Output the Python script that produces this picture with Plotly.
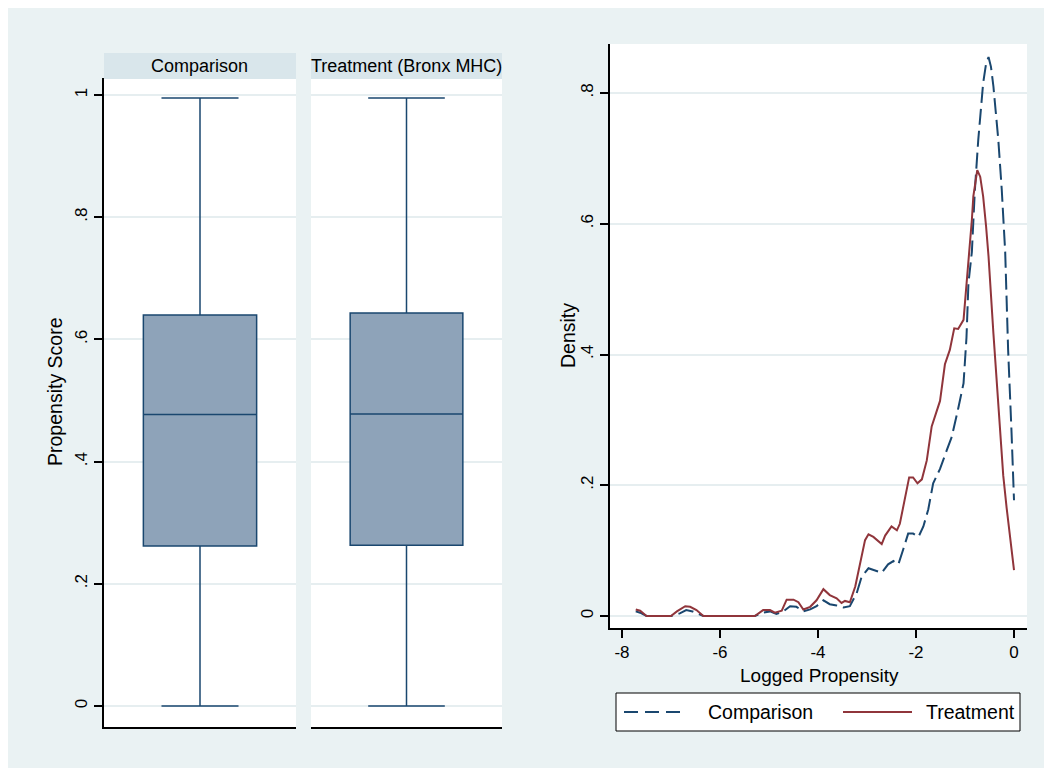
import plotly.graph_objects as go

# page body has an 8px margin; figure sized to fit inside the 1052x772 window
OFF = 8
W, H = 1052 - OFF, 772 - OFF

# ---- data ----
groups = ["Comparison", "Treatment (Bronx MHC)"]
box_q1 = [0.262, 0.263]
box_median = [0.477, 0.478]
box_q3 = [0.640, 0.643]
box_lower = [0.0, 0.0]
box_upper = [0.995, 0.995]

treat_x = [-7.72, -7.63, -7.50, -7.00, -6.88, -6.71, -6.61, -6.48, -6.34, -5.29,
           -5.12, -4.98, -4.88, -4.74, -4.64, -4.50, -4.40, -4.30, -4.16, -4.03,
           -3.89, -3.76, -3.62, -3.52, -3.45, -3.35, -3.24, -3.14, -3.04, -2.97,
           -2.87, -2.70, -2.63, -2.50, -2.39, -2.33, -2.22, -2.14, -2.06, -1.97,
           -1.88, -1.78, -1.68, -1.61, -1.51, -1.41, -1.31, -1.22, -1.14, -1.03,
           -0.97, -0.90, -0.86, -0.83, -0.75, -0.69, -0.63, -0.57, -0.52, -0.42,
           -0.35, -0.29, -0.22, -0.15, -0.07, 0.00]
treat_y = [0.010, 0.008, 0.000, 0.000, 0.007, 0.015, 0.014, 0.009, 0.000, 0.000,
           0.009, 0.009, 0.005, 0.008, 0.025, 0.025, 0.021, 0.010, 0.014, 0.024,
           0.041, 0.032, 0.027, 0.020, 0.023, 0.021, 0.045, 0.080, 0.116, 0.125,
           0.121, 0.110, 0.123, 0.137, 0.131, 0.141, 0.184, 0.212, 0.212, 0.203,
           0.209, 0.238, 0.290, 0.306, 0.329, 0.385, 0.407, 0.440, 0.439, 0.453,
           0.509, 0.560, 0.606, 0.642, 0.682, 0.672, 0.642, 0.596, 0.550, 0.432,
           0.356, 0.275, 0.215, 0.165, 0.115, 0.070]

comp_x = [-7.72, -7.63, -7.50, -7.00, -6.82, -6.69, -6.56, -6.45, -6.34, -5.29,
          -5.12, -4.98, -4.85, -4.71, -4.57, -4.44, -4.30, -4.16, -4.03, -3.89,
          -3.76, -3.62, -3.48, -3.35, -3.21, -3.11, -2.97, -2.70, -2.57, -2.46,
          -2.36, -2.26, -2.16, -2.06, -1.95, -1.85, -1.75, -1.65, -1.51, -1.37,
          -1.27, -1.14, -1.03, -0.97, -0.93, -0.86, -0.80, -0.73, -0.63, -0.57,
          -0.52, -0.47, -0.42, -0.32, -0.25, -0.18, -0.12, -0.05, -0.01, 0.00]
comp_y = [0.007, 0.005, 0.000, 0.000, 0.004, 0.009, 0.007, 0.004, 0.000, 0.000,
          0.005, 0.007, 0.003, 0.007, 0.015, 0.014, 0.007, 0.010, 0.015, 0.024,
          0.018, 0.016, 0.013, 0.015, 0.035, 0.060, 0.073, 0.066, 0.079, 0.084,
          0.079, 0.102, 0.126, 0.126, 0.121, 0.137, 0.163, 0.203, 0.225, 0.254,
          0.274, 0.317, 0.356, 0.426, 0.509, 0.557, 0.650, 0.728, 0.815, 0.845,
          0.855, 0.840, 0.810, 0.728, 0.652, 0.557, 0.407, 0.280, 0.183, 0.177]

left_ticks = [0, 0.2, 0.4, 0.6, 0.8, 1]
left_ticktext = ["0", ".2", ".4", ".6", ".8", "1"]
dens_ticks = [0, 0.2, 0.4, 0.6, 0.8]
dens_ticktext = ["0", ".2", ".4", ".6", ".8"]
lp_ticks = [-8, -6, -4, -2, 0]
lp_ticktext = ["-8", "-6", "-4", "-2", "0"]

NAVY = "#1a476f"
MAROON = "#90353b"
BG = "#eaf2f3"
STRIP = "#d9e6eb"
GRID = "#e6eef0"
FONT = "Liberation Sans, Arial, sans-serif"


# positions below are given in window pixels and converted to paper coords
def px(x):
    return (x - OFF) / W


def py(y):
    return 1 - (y - OFF) / H


fig = go.Figure()

# box plots (one per panel)
for i, g in enumerate(groups):
    xa = "x" if i == 0 else "x2"
    fig.add_trace(go.Box(
        x=[0], q1=[box_q1[i]], median=[box_median[i]], q3=[box_q3[i]],
        lowerfence=[box_lower[i]], upperfence=[box_upper[i]],
        name=g, width=0.59, whiskerwidth=0.68,
        fillcolor="#8ea3b9", line=dict(color=NAVY, width=1.5),
        xaxis=xa, yaxis="y", showlegend=False, hoverinfo="skip"
    ))

# density curves
fig.add_trace(go.Scatter(
    x=comp_x, y=comp_y, mode="lines", name="Comparison",
    line=dict(color=NAVY, width=2, dash="16px,6px"),
    xaxis="x3", yaxis="y3", showlegend=False
))
fig.add_trace(go.Scatter(
    x=treat_x, y=treat_y, mode="lines", name="Treatment",
    line=dict(color=MAROON, width=2),
    xaxis="x3", yaxis="y3", showlegend=False
))

tickfont = dict(family=FONT, size=17, color="black")

fig.update_layout(
    width=W, height=H,
    margin=dict(l=0, r=0, t=0, b=0),
    paper_bgcolor=BG, plot_bgcolor="white",
    font=dict(family=FONT, color="black"),
    xaxis=dict(domain=[px(104), px(296)], range=[-0.5, 0.5],
               showticklabels=False, ticks="", showgrid=False, zeroline=False,
               showline=True, linecolor="black", linewidth=1.5, anchor="y"),
    xaxis2=dict(domain=[px(311), px(502)], range=[-0.5, 0.5],
                showticklabels=False, ticks="", showgrid=False, zeroline=False,
                showline=True, linecolor="black", linewidth=1.5, anchor="y"),
    yaxis=dict(domain=[py(727), py(78)], range=[-0.0344, 1.0278], anchor="x",
               tickvals=left_ticks, ticktext=left_ticktext, tickangle=-90,
               tickfont=tickfont, ticks="outside", ticklen=8, tickwidth=1.5,
               tickcolor="black", showline=True, linecolor="black", linewidth=1.5,
               showgrid=True, gridcolor=GRID, gridwidth=1.5, zeroline=False),
    xaxis3=dict(domain=[px(610), px(1027)], range=[-8.245, 0.265], anchor="y3",
                tickvals=lp_ticks, ticktext=lp_ticktext, tickfont=tickfont,
                ticks="outside", ticklen=8, tickwidth=1.5, tickcolor="black",
                showline=True, linecolor="black", linewidth=1.5,
                showgrid=False, zeroline=False),
    yaxis3=dict(domain=[py(628), py(44)], range=[-0.0184, 0.875], anchor="x3",
                tickvals=dens_ticks, ticktext=dens_ticktext, tickangle=-90,
                tickfont=tickfont, ticks="outside", ticklen=8, tickwidth=1.5,
                tickcolor="black", showline=True, linecolor="black", linewidth=1.5,
                showgrid=True, gridcolor=GRID, gridwidth=1.5, zeroline=False),
)

shapes = []
# white border at right and bottom edges
shapes.append(dict(type="rect", xref="paper", yref="paper", x0=px(1048), x1=1.05,
                   y0=-0.05, y1=1.05, line=dict(width=0), fillcolor="white"))
shapes.append(dict(type="rect", xref="paper", yref="paper", x0=-0.05, x1=1.05,
                   y0=-0.05, y1=py(768), line=dict(width=0), fillcolor="white"))
# panel header strips
for (a, b) in [(104, 296), (311, 502)]:
    shapes.append(dict(type="rect", xref="paper", yref="paper",
                       x0=px(a), x1=px(b), y0=py(79), y1=py(53),
                       line=dict(width=0), fillcolor=STRIP))
# legend box
shapes.append(dict(type="rect", xref="paper", yref="paper",
                   x0=px(616), x1=px(1020), y0=py(731), y1=py(693),
                   line=dict(color="black", width=1), fillcolor="white"))
shapes.append(dict(type="line", xref="paper", yref="paper",
                   x0=px(624), x1=px(680), y0=py(712), y1=py(712),
                   line=dict(color=NAVY, width=2, dash="14px,7px")))
shapes.append(dict(type="line", xref="paper", yref="paper",
                   x0=px(843), x1=px(912), y0=py(712), y1=py(712),
                   line=dict(color=MAROON, width=2)))
fig.update_layout(shapes=shapes)

ann = []
for (cx, txt) in [(199, groups[0]), (406, groups[1])]:
    ann.append(dict(x=px(cx), y=py(66), xref="paper", yref="paper", text=txt,
                    showarrow=False, font=dict(size=18), xanchor="center", yanchor="middle"))
ann.append(dict(x=px(55), y=py(392), xref="paper", yref="paper", text="Propensity Score",
                textangle=-90, showarrow=False, font=dict(size=19.5),
                xanchor="center", yanchor="middle"))
ann.append(dict(x=px(568), y=py(336), xref="paper", yref="paper", text="Density",
                textangle=-90, showarrow=False, font=dict(size=19.5),
                xanchor="center", yanchor="middle"))
ann.append(dict(x=px(819), y=py(675), xref="paper", yref="paper", text="Logged Propensity",
                showarrow=False, font=dict(size=19), xanchor="center", yanchor="middle"))
ann.append(dict(x=px(706), y=py(712), xref="paper", yref="paper", text="Comparison",
                showarrow=False, font=dict(size=19.5), xanchor="left", yanchor="middle"))
ann.append(dict(x=px(924), y=py(712), xref="paper", yref="paper", text="Treatment",
                showarrow=False, font=dict(size=19.5), xanchor="left", yanchor="middle"))
fig.update_layout(annotations=ann)

fig.write_html("out.html")
